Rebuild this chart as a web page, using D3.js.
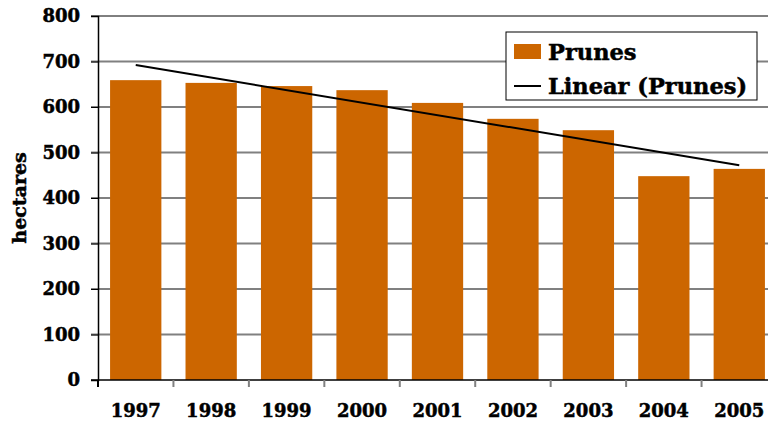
<!DOCTYPE html>
<html>
<head>
<meta charset="utf-8">
<script src="https://cdn.jsdelivr.net/npm/d3@7"></script>
<style>
  body { margin: 0; background: #fff; }
  svg { display: block; }
  text { font-family: "DejaVu Serif", "Liberation Serif", serif; font-weight: bold; fill: #000; stroke: #000; stroke-width: 0.5px; }
</style>
</head>
<body>
<svg id="chart" width="768" height="423"></svg>
<script>
var years = ["1997", "1998", "1999", "2000", "2001", "2002", "2003", "2004", "2005"];
var prunes = [659, 653, 646, 637, 609, 574, 549, 448, 464];
var yTicks = [0, 100, 200, 300, 400, 500, 600, 700, 800];

var svg = d3.select("#chart");
var plotLeft = 98, plotTop = 16, plotBottom = 380, plotRight = 777;

var x = d3.scaleBand().domain(years).range([plotLeft, plotRight]).paddingInner(0.32).paddingOuter(0.16);
var xTick = d3.scaleBand().domain(years).range([plotLeft, plotRight]);
var y = d3.scaleLinear().domain([0, 800]).range([plotBottom, plotTop]);

// gridlines
svg.append("g").selectAll("line")
    .data(yTicks.filter(function(d) { return d > 0; }))
    .enter().append("line")
    .attr("x1", plotLeft - 7).attr("x2", 768)
    .attr("y1", function(d) { return y(d); })
    .attr("y2", function(d) { return y(d); })
    .attr("stroke", function(d) { return d == 800 ? "#000" : "#808080"; })
    .attr("stroke-width", function(d) { return d == 800 ? 1 : 2; });

// bars
svg.append("g").selectAll("rect")
    .data(prunes)
    .enter().append("rect")
    .attr("x", function(d, i) { return x(years[i]); })
    .attr("width", x.bandwidth())
    .attr("y", function(d) { return y(d); })
    .attr("height", function(d) { return plotBottom - y(d); })
    .attr("fill", "#CC6600");

// linear trend (least squares)
var n = prunes.length;
var mx = d3.mean(prunes, function(d, i) { return i; });
var my = d3.mean(prunes);
var sxy = d3.sum(prunes, function(d, i) { return (i - mx) * (d - my); });
var sxx = d3.sum(prunes, function(d, i) { return (i - mx) * (i - mx); });
var slope = sxy / sxx, icpt = my - slope * mx;
var trend = [0, n - 1].map(function(i) { return [i, icpt + slope * i]; });
svg.append("path")
    .attr("d", d3.line()
        .x(function(d) { return x(years[d[0]]) + x.bandwidth() / 2; })
        .y(function(d) { return y(d[1]); })(trend))
    .attr("fill", "none").attr("stroke", "#000").attr("stroke-width", 2);

// y axis
var yAxis = svg.append("g").attr("transform", "translate(" + plotLeft + ",0)")
    .call(d3.axisLeft(y).tickValues(yTicks).tickSize(7).tickPadding(11));
yAxis.select(".domain").attr("stroke", "#000").attr("stroke-width", 1.5);
yAxis.selectAll(".tick line").attr("stroke", "#000");
yAxis.selectAll("text").attr("fill", "#000").style("font-size", "18px").style("font-family", "DejaVu Serif").style("font-weight", "bold");

// x axis
var xAxis = svg.append("g").attr("transform", "translate(0," + plotBottom + ")");
xAxis.append("line").attr("x1", plotLeft - 7).attr("x2", 768).attr("y1", 0).attr("y2", 0)
    .attr("stroke", "#000").attr("stroke-width", 1.5);
xAxis.selectAll(".xt").data(years).enter().append("line")
    .attr("x1", function(d) { return xTick(d); }).attr("x2", function(d) { return xTick(d); })
    .attr("y1", 0).attr("y2", 7)
    .attr("stroke", function(d, i) { return i == 0 ? "#000" : "#808080"; }).attr("stroke-width", 2);
xAxis.selectAll(".xl").data(years).enter().append("text")
    .attr("x", function(d) { return xTick(d) + xTick.bandwidth() / 2; })
    .attr("y", 37)
    .attr("text-anchor", "middle")
    .style("font-size", "18px")
    .text(function(d) { return d; });

// axis title
svg.append("text")
    .attr("transform", "translate(26,198) rotate(-90)")
    .attr("text-anchor", "middle")
    .style("font-size", "19px")
    .text("hectares");

// legend
var lg = svg.append("g");
lg.append("rect").attr("x", 506).attr("y", 32).attr("width", 251).attr("height", 68)
    .attr("fill", "#fff").attr("stroke", "#000").attr("stroke-width", 1);
lg.append("rect").attr("x", 514).attr("y", 44).attr("width", 27).attr("height", 15).attr("fill", "#CC6600");
lg.append("text").attr("x", 548).attr("y", 60).style("font-size", "22.5px").text("Prunes");
lg.append("line").attr("x1", 514).attr("x2", 541).attr("y1", 86).attr("y2", 86)
    .attr("stroke", "#000").attr("stroke-width", 2);
lg.append("text").attr("x", 548).attr("y", 94).style("font-size", "22.5px").text("Linear (Prunes)");
</script>
</body>
</html>
